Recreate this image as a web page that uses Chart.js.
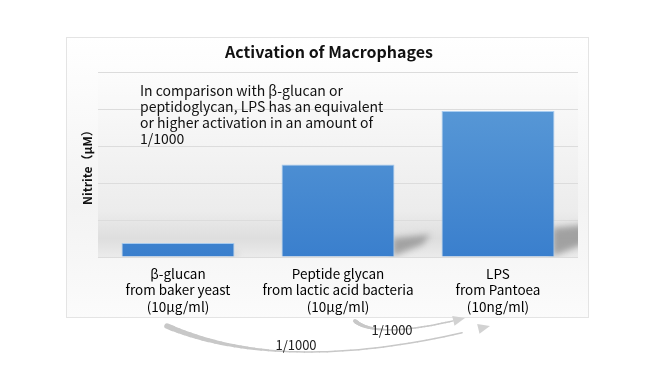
<!DOCTYPE html>
<html>
<head>
<meta charset="utf-8">
<script src="https://cdn.jsdelivr.net/npm/chart.js@4"></script>
<style>
  html, body { margin: 0; padding: 0; background: #fff; }
  canvas { display: block; }
</style>
</head>
<body>
<canvas id="chart" width="660" height="378"></canvas>
<script>
const categories = [
  ["β-glucan", "from baker yeast", "(10μg/ml)"],
  ["Peptide glycan", "from lactic acid bacteria", "(10μg/ml)"],
  ["LPS", "from Pantoea", "(10ng/ml)"]
];
const nitrite = [0.38, 2.5, 3.95];
const noteLines = [
  "In comparison with β-glucan or",
  "peptidoglycan, LPS has an equivalent",
  "or higher activation in an amount of",
  "1/1000"
];
const ratioLabels = ["1/1000", "1/1000"];

const FONT = "'Noto Sans CJK JP', 'Noto Sans', sans-serif";

// frame, plot background, bar shadows, note and arrows
const backdrop = {
  id: "backdrop",
  beforeDraw(chart) {
    const { ctx, chartArea: a } = chart;
    ctx.save();
    ctx.fillStyle = "#fff";
    ctx.fillRect(0, 0, chart.width, chart.height);
    const bg = ctx.createLinearGradient(0, 37, 0, 318);
    bg.addColorStop(0, "#ffffff");
    bg.addColorStop(0.6, "#f3f3f3");
    bg.addColorStop(1, "#fbfbfb");
    ctx.fillStyle = bg;
    ctx.fillRect(66, 37, 523, 281);
    ctx.strokeStyle = "#e4e4e4";
    ctx.lineWidth = 1;
    ctx.strokeRect(66.5, 37.5, 522, 280);
    const pg = ctx.createLinearGradient(0, a.top, 0, a.bottom);
    pg.addColorStop(0, "#fcfcfc");
    pg.addColorStop(0.75, "#ececec");
    pg.addColorStop(0.9, "#dedede");
    pg.addColorStop(1, "#ebebeb");
    ctx.fillStyle = pg;
    ctx.fillRect(a.left, a.top, a.right - a.left, a.bottom - a.top);
    ctx.restore();
  },
  beforeDatasetsDraw(chart) {
    const { ctx, chartArea: a } = chart;
    const meta = chart.getDatasetMeta(0);
    ctx.save();
    ctx.beginPath();
    ctx.rect(a.left, a.top, a.right - a.left, a.bottom - a.top);
    ctx.clip();
    ctx.filter = "blur(3px)";
    meta.data.forEach(bar => {
      const xr = bar.x + bar.width / 2 - 2;
      const b = bar.base;
      const s = (b - bar.y) / 92;
      ctx.fillStyle = "rgba(110,110,110,0.55)";
      ctx.beginPath();
      ctx.moveTo(xr, b);
      ctx.lineTo(xr, b - 18 * s);
      ctx.lineTo(xr + 38 * s, b - 22 * s);
      ctx.lineTo(xr + 30 * s, b - 12 * s);
      ctx.closePath();
      ctx.fill();
    });
    ctx.restore();
  },
  afterDraw(chart) {
    const { ctx } = chart;
    const x = chart.scales.x;
    ctx.save();
    ctx.fillStyle = "#111";
    ctx.font = "14px " + FONT;
    ctx.textBaseline = "middle";
    noteLines.forEach((t, i) => ctx.fillText(t, 140, 91 + i * 16));

    const c0 = x.getPixelForValue(0), c1 = x.getPixelForValue(1), c2 = x.getPixelForValue(2);
    arrow(ctx, [c1 + 17, 321], [c1 + 40, 340], [c2 - 33, 318], 4, 1.5);
    arrow(ctx, [c0 - 11, 326], [c0 + 110, 378], [c2 - 8, 326], 5.5, 1.5);
    ctx.fillStyle = "#222";
    ctx.font = "13px " + FONT;
    ctx.textAlign = "center";
    ctx.fillText(ratioLabels[0], (c1 + c2) / 2 - 26, 330);
    ctx.fillText(ratioLabels[1], (c0 + c1) / 2 + 38, 345);
    ctx.restore();
  }
};

function arrow(ctx, p0, c, p1, w0, w1) {
  const pt = t => [
    (1 - t) * (1 - t) * p0[0] + 2 * (1 - t) * t * c[0] + t * t * p1[0],
    (1 - t) * (1 - t) * p0[1] + 2 * (1 - t) * t * c[1] + t * t * p1[1]
  ];
  const n = 40, stop = 0.93;
  ctx.strokeStyle = "#c8c8c8";
  ctx.lineCap = "round";
  for (let i = 0; i < n; i++) {
    const t0 = stop * i / n, t1 = stop * (i + 1) / n;
    const a = pt(t0), b = pt(t1);
    ctx.lineWidth = w0 + (w1 - w0) * Math.min(1, t0 * 2.5);
    ctx.beginPath();
    ctx.moveTo(a[0], a[1]);
    ctx.lineTo(b[0], b[1]);
    ctx.stroke();
  }
  const tip = p1, base = pt(stop);
  const dx = tip[0] - base[0], dy = tip[1] - base[1];
  const len = Math.hypot(dx, dy), ux = dx / len, uy = dy / len;
  const hl = 12, hw = 5;
  const bx = tip[0] - ux * hl, by = tip[1] - uy * hl;
  ctx.fillStyle = "#d2d2d2";
  ctx.beginPath();
  ctx.moveTo(tip[0], tip[1]);
  ctx.lineTo(bx - uy * hw, by + ux * hw);
  ctx.lineTo(bx + uy * hw, by - ux * hw);
  ctx.closePath();
  ctx.fill();
}

const ctx = document.getElementById("chart").getContext("2d");
const barGrad = ctx.createLinearGradient(0, 72, 0, 257);
barGrad.addColorStop(0, "#5e9dd8");
barGrad.addColorStop(1, "#3a7fcd");

new Chart(ctx, {
  type: "bar",
  data: {
    labels: categories,
    datasets: [{
      data: nitrite,
      backgroundColor: barGrad,
      borderColor: "rgba(160,200,240,0.9)",
      borderWidth: 1,
      categoryPercentage: 0.706,
      barPercentage: 1
    }]
  },
  options: {
    responsive: false,
    animation: false,
    layout: { padding: { left: 80, right: 82, top: 0, bottom: 61 } },
    plugins: {
      legend: { display: false },
      tooltip: { enabled: false },
      title: {
        display: true,
        text: "Activation of Macrophages",
        color: "#111",
        font: { family: FONT, size: 16, weight: "bold" },
        padding: { top: 42, bottom: 11 }
      }
    },
    scales: {
      x: {
        afterFit: s => { s.height = 60; },
        grid: { display: false },
        border: { display: false },
        ticks: {
          color: "#000",
          font: { family: FONT, size: 13.5, lineHeight: 1.25 },
          padding: 0,
          maxRotation: 0
        }
      },
      y: {
        min: 0,
        max: 5,
        afterFit: s => { s.width = 18; },
        ticks: { display: false, stepSize: 1 },
        border: { display: false },
        grid: { color: "#dcdcdc", lineWidth: 1, drawTicks: false },
        title: {
          display: true,
          text: "Nitrite（μM）",
          color: "#111",
          font: { family: FONT, size: 12, weight: "bold" },
          padding: 0
        }
      }
    }
  },
  plugins: [backdrop]
});
</script>
</body>
</html>
